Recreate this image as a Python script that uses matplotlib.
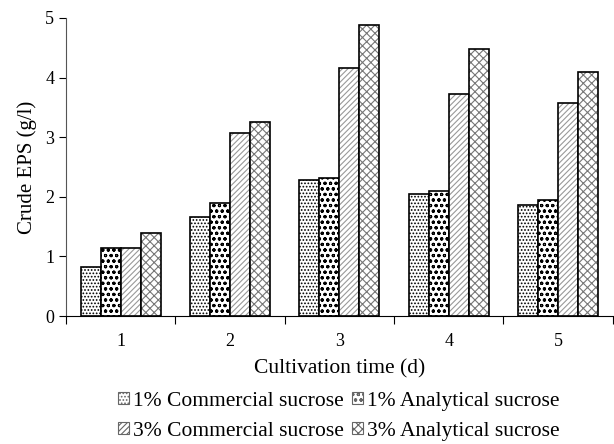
import matplotlib.pyplot as plt
import numpy as np

plt.rcParams['font.family'] = ['Liberation Serif', 'DejaVu Serif']
plt.rcParams['hatch.linewidth'] = 0.8

days = ["1", "2", "3", "4", "5"]
series = ["1% Commercial sucrose", "1% Analytical sucrose",
          "3% Commercial sucrose", "3% Analytical sucrose"]
comm1 = [0.83, 1.66, 2.29, 2.04, 1.87]
anal1 = [1.14, 1.89, 2.31, 2.10, 1.95]
comm3 = [1.15, 3.07, 4.16, 3.72, 3.57]
anal3 = [1.39, 3.26, 4.88, 4.48, 4.09]

values = [comm1, anal1, comm3, anal3]
hatches = ['.....', 'ooo', '//////', 'xxxx']
hatch_cols = ['black', 'black', '#999999', '#777777']

fig = plt.figure(figsize=(6.14, 4.44), dpi=100)
ax = fig.add_axes([0.1075, 0.288, 0.8905, 0.6715])

x = np.arange(1, len(days) + 1)
w = 0.183
handles = []
for i, (vals, h, hc) in enumerate(zip(values, hatches, hatch_cols)):
    ax.bar(x + (i - 1.5) * w, vals, w, facecolor='white', edgecolor=hc,
           hatch=h, linewidth=0)
    ax.bar(x + (i - 1.5) * w, vals, w, facecolor='none', edgecolor='black',
           linewidth=1.2)
    handles.append(plt.Rectangle((0, 0), 1, 1, facecolor='white',
                                 edgecolor='#666666', hatch=h,
                                 linewidth=0.8))

ax.set_xlim(0.5, 5.5)
ax.set_ylim(0, 5)
ax.set_yticks(range(6))
ax.set_xticks(np.arange(0.5, 5.6, 1.0))
ax.set_xticklabels([])
ax.set_xticks(x, minor=True)
ax.set_xticklabels(days, minor=True)
ax.tick_params(axis='x', which='minor', length=0, labelsize=13, pad=12)
ax.tick_params(axis='x', which='major', length=6, direction='out')
ax.tick_params(axis='y', labelsize=13, length=5)
for s in ['top', 'right']:
    ax.spines[s].set_visible(False)
ax.spines['left'].set_color('#555555')

ax.set_xlabel("Cultivation time (d)", fontsize=15.5, labelpad=7)
ax.set_ylabel("Crude EPS (g/l)", fontsize=15, labelpad=6)

# row-wise order in a 2-column legend
order = [0, 2, 1, 3]
fig.legend([handles[k] for k in order], [series[k] for k in order],
           ncol=2, loc='lower center',
           bbox_to_anchor=(0.552, -0.036), frameon=False, fontsize=15.5,
           handlelength=0.5, handleheight=0.5, handletextpad=0.2,
           columnspacing=0.4, labelspacing=0.5)

fig.savefig("out.png", dpi=100)
